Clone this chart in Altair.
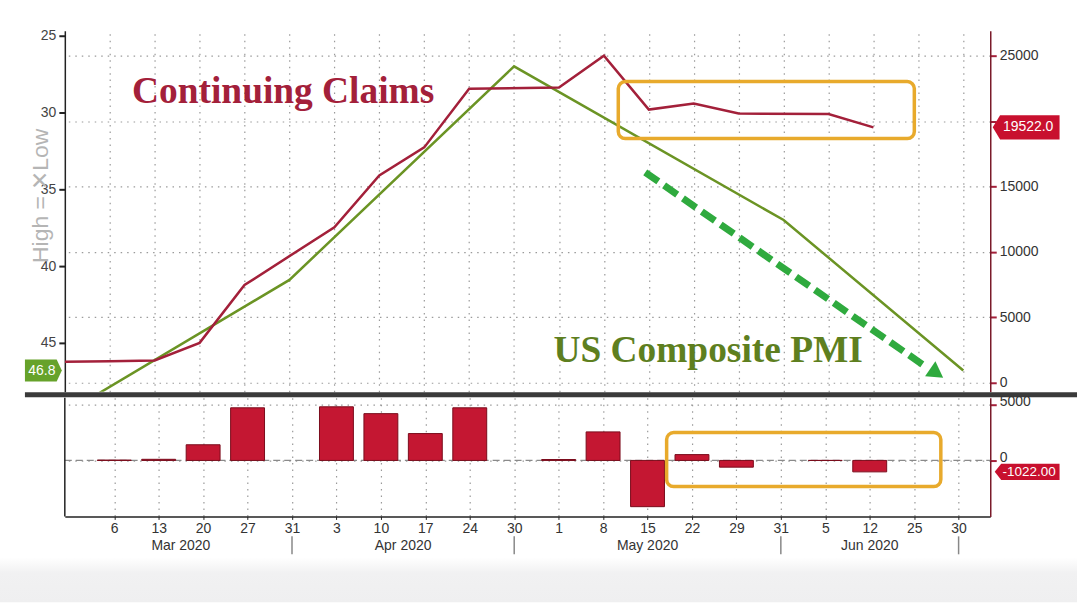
import json
import altair as alt
import pandas as pd

# ---------------- data ----------------
x_labels = ["6", "13", "20", "27", "31", "3", "10", "17", "24", "30",
            "1", "8", "15", "22", "29", "31", "5", "12", "25", "30"]
month_labels = ["Mar 2020", "Apr 2020", "May 2020", "Jun 2020"]
month_label_pos = [1.5, 6.5, 12.0, 17.0]
month_sep_pos = [4, 9, 15, 19]

# Continuing claims (thousands), right axis of the top panel
claims_pos = [-1, 0, 1, 2, 3, 5, 6, 7, 8, 10, 11, 12, 13, 14, 16, 17]
claims_val = [1600, 1650, 1700, 3050, 7470, 11890, 15850, 17990, 22480,
              22560, 25000, 20880, 21340, 20580, 20544, 19522]

# US Composite PMI, left (inverted) axis of the top panel
pmi_pos = [-1, 4, 9, 15, 19]
pmi_val = [49.6, 40.9, 27.0, 37.0, 46.8]

# weekly change in continuing claims, bottom panel
chg_pos = [0, 1, 2, 3, 5, 6, 7, 8, 10, 11, 12, 13, 14, 16, 17]
chg_val = [30, 100, 1400, 4700, 4790, 4180, 2400, 4700, 80, 2550,
           -4130, 520, -600, 0, -1022]

# annotations (in data units)
title_text = ["Continuing Claims", "US Composite PMI"]
title_pos = [3.86, 13.32]
title_val = [21418, 1600]
box_top = {"pos": [11.32], "pos2": [17.91], "v": [23018], "v2": [18674]}
box_bot = {"pos": [12.43], "pos2": [18.60], "v": [2487], "v2": [-2326]}
arrow = {"pos": [11.92], "pos2": [18.20], "v": [16082], "v2": [1143]}
arrow_head = {"pos": [18.36], "v": [840]}

# ---------------- styling ----------------
W, H_TOP, H_BOT = 928, 362, 119
RED = "#a3203a"
BAR = "#c41732"
GREEN = "#6b9424"
TAG_RED = "#c8102e"
TAG_GREEN = "#66a22a"
ORANGE = "#e8aa2c"
FONT = "Liberation Sans"
SERIF = "Liberation Serif"
GRID = dict(gridDash=[1.5, 5], gridColor="#9a9a9a", gridWidth=1.2)

xscale = alt.Scale(domain=[-1, 19.6], nice=False, zero=False)
pmi_scale = alt.Scale(domain=[24.68, 48.18], reverse=True, nice=False, zero=False)
claims_scale = alt.Scale(domain=[-686, 26905], nice=False, zero=False)
chg_scale = alt.Scale(domain=[-5000, 5600], nice=False, zero=False)

x_axis_top = alt.Axis(values=list(range(20)), labels=False, ticks=False,
                      domain=False, grid=True, title=None, **GRID)
x_axis_bot = alt.Axis(values=list(range(20)), grid=True, title=None,
                      labelExpr=json.dumps(x_labels) + "[datum.value]",
                      labelFont=FONT, labelFontSize=14, labelColor="#333",
                      labelPadding=2, tickSize=3, tickColor="#222",
                      domainColor="#222", domainWidth=1.5, labelFlush=False,
                      labelOverlap=False, **GRID)


def XT(field="pos"):
    return alt.X(f"{field}:Q", scale=xscale, axis=x_axis_top)


def XB(field="pos"):
    return alt.X(f"{field}:Q", scale=xscale, axis=x_axis_bot)


def YN(scale, field="v"):
    return alt.Y(f"{field}:Q", scale=scale, axis=None)


# ---------------- top panel ----------------
pmi_df = pd.DataFrame({"pos": pmi_pos, "v": pmi_val})
claims_df = pd.DataFrame({"pos": claims_pos, "v": claims_val})

green = alt.Chart(pmi_df).mark_line(color=GREEN, strokeWidth=2.5, clip=True).encode(
    x=XT(),
    y=alt.Y("v:Q", scale=pmi_scale, axis=alt.Axis(
        orient="left", values=[25, 30, 35, 40, 45], grid=False,
        title="High = \u2715Low", titleFont=FONT, titleFontSize=23,
        titleFontWeight="normal", titleColor="#b5b5b5", titleAngle=-90,
        titleX=-24, titleY=165, titleAlign="center", titleBaseline="middle",
        labelFont=FONT, labelFontSize=14, labelColor="#444", labelPadding=3,
        tickSize=6, tickWidth=2, tickColor="#222",
        domainColor="#222", domainWidth=1.5)),
)

red = alt.Chart(claims_df).mark_line(color=RED, strokeWidth=2.5, clip=True).encode(
    x=XT(),
    y=alt.Y("v:Q", scale=claims_scale, axis=alt.Axis(
        orient="right", values=[0, 5000, 10000, 15000, 20000, 25000],
        labelExpr="datum.value == 20000 ? '' : datum.label", format="d",
        title=None, labelFont=FONT, labelFontSize=14, labelColor="#333",
        labelPadding=3, tickSize=6, tickWidth=2, tickColor=RED,
        domainColor="#7a1a2a", domainWidth=1.5, grid=True, **GRID)),
)

titles_df = pd.DataFrame({"pos": title_pos, "v": title_val, "t": title_text,
                          "c": [RED, "#5e7f1f"]})
titles = alt.Chart(titles_df).mark_text(
    font=SERIF, fontSize=37.5, fontWeight="bold", align="center",
    baseline="alphabetic").encode(
    x=XT(), y=YN(claims_scale), text="t:N",
    color=alt.Color("c:N", scale=None))

box1 = alt.Chart(pd.DataFrame(box_top)).mark_rect(
    fillOpacity=0, stroke=ORANGE, strokeWidth=3.5, cornerRadius=7).encode(
    x=XT(), x2="pos2:Q", y=YN(claims_scale), y2="v2:Q")

arrow_line = alt.Chart(pd.DataFrame(arrow)).mark_rule(
    color="#2faa3e", strokeWidth=7, strokeDash=[16, 7]).encode(
    x=XT(), x2="pos2:Q", y=YN(claims_scale), y2="v2:Q")

arrow_tip = alt.Chart(pd.DataFrame(arrow_head)).mark_point(
    shape="triangle", filled=True, color="#2faa3e", opacity=1,
    size=330, angle=124.7).encode(x=XT(), y=YN(claims_scale))

tag_r_path = "M -1 0 L -0.78 -0.36 L 1 -0.36 L 1 0.36 L -0.78 0.36 Z"
tag_l_path = "M 1 0 L 0.72 -0.6 L -1 -0.6 L -1 0.6 L 0.72 0.6 Z"

claims_tag_df = pd.DataFrame({"v": [claims_val[-1]],
                              "t": [f"{claims_val[-1]:.1f}"]})
claims_tag = alt.Chart(claims_tag_df).mark_point(
    shape=tag_r_path, filled=True, color=TAG_RED, opacity=1, size=4489).encode(
    x=alt.value(W + 36), y=YN(claims_scale))
claims_tag_txt = alt.Chart(claims_tag_df).mark_text(
    font=FONT, fontSize=14, color="white", align="center", baseline="middle").encode(
    x=alt.value(W + 38), y=YN(claims_scale), text="t:N")

pmi_tag_df = pd.DataFrame({"v": [pmi_val[-1]], "t": [f"{pmi_val[-1]:.1f}"]})
pmi_tag = alt.Chart(pmi_tag_df).mark_point(
    shape=tag_l_path, filled=True, color=TAG_GREEN, opacity=1, size=1369).encode(
    x=alt.value(-21.5), y=YN(pmi_scale))
pmi_tag_txt = alt.Chart(pmi_tag_df).mark_text(
    font=FONT, fontSize=14, color="white", align="center", baseline="middle").encode(
    x=alt.value(-23), y=YN(pmi_scale), text="t:N")

sep_bar = alt.Chart(pd.DataFrame({"a": [0]})).mark_rule(
    color="#3a3a3a", strokeWidth=5).encode(
    x=alt.value(-40), x2=alt.value(W + 87), y=alt.value(H_TOP + 3))

top_edge = alt.Chart(pd.DataFrame({"a": [0]})).mark_rect(color="white").encode(
    x=alt.value(-65), x2=alt.value(W + 87), y=alt.value(-30), y2=alt.value(-29))

top = alt.layer(
    top_edge, green, red, box1, arrow_line, arrow_tip, titles,
    pmi_tag, pmi_tag_txt, claims_tag, claims_tag_txt, sep_bar,
).resolve_scale(y="independent").properties(width=W, height=H_TOP)

# ---------------- bottom panel ----------------
chg_df = pd.DataFrame({"pos": chg_pos, "v": chg_val})

zero_line = alt.Chart(pd.DataFrame({"a": [0]})).mark_rule(
    color="#8a8a8a", strokeWidth=1.3, strokeDash=[7, 4]).encode(
    x=alt.value(0), x2=alt.value(W),
    y=alt.YDatum(0, scale=chg_scale, axis=None))

bars = alt.Chart(chg_df).mark_bar(
    size=34, color=BAR, stroke="#7a0c1c", strokeWidth=1).encode(
    x=XB(),
    y=alt.Y("v:Q", scale=chg_scale, axis=alt.Axis(
        orient="right", values=[0, 5000], format="d", title=None,
        labelFont=FONT, labelFontSize=14, labelColor="#333", labelPadding=3,
        labelOffset=-3, tickSize=6, tickWidth=2, tickColor=RED,
        domainColor="#7a1a2a", domainWidth=1.5, grid=True, **GRID)),
    y2=alt.datum(0),
)

left_line = alt.Chart(pd.DataFrame({"a": [0]})).mark_rule(
    color="#222", strokeWidth=1.5).encode(
    x=alt.value(0), y=alt.value(0), y2=alt.value(H_BOT))

box2 = alt.Chart(pd.DataFrame(box_bot)).mark_rect(
    fillOpacity=0, stroke=ORANGE, strokeWidth=3.5, cornerRadius=7).encode(
    x=XB(), x2="pos2:Q", y=YN(chg_scale), y2="v2:Q")

months_df = pd.DataFrame({"pos": month_label_pos, "t": month_labels})
months = alt.Chart(months_df).mark_text(
    font=FONT, fontSize=14, color="#333", align="center", baseline="middle").encode(
    x=XB(), y=alt.value(H_BOT + 30), text="t:N")

seps_df = pd.DataFrame({"pos": month_sep_pos})
seps = alt.Chart(seps_df).mark_rule(color="#888", strokeWidth=1.5).encode(
    x=XB(), y=alt.value(H_BOT + 20), y2=alt.value(H_BOT + 38))

chg_tag_df = pd.DataFrame({"v": [chg_val[-1]], "t": [f"{chg_val[-1]:.2f}"]})
chg_tag = alt.Chart(chg_tag_df).mark_point(
    shape="M -1 0 L -0.8 -0.25 L 1 -0.25 L 1 0.25 L -0.8 0.25 Z",
    filled=True, color=TAG_RED, opacity=1, size=4225).encode(
    x=alt.value(W + 37), y=YN(chg_scale))
chg_tag_txt = alt.Chart(chg_tag_df).mark_text(
    font=FONT, fontSize=13.5, color="white", align="center", baseline="middle").encode(
    x=alt.value(W + 39), y=YN(chg_scale), text="t:N")

band = alt.Chart(pd.DataFrame({"a": [0]})).mark_rect(
    color=alt.LinearGradient(gradient="linear", x1=0, y1=0, x2=0, y2=1,
                             stops=[alt.GradientStop(color="#ffffff", offset=0),
                                    alt.GradientStop(color="#f1f1f2", offset=0.35),
                                    alt.GradientStop(color="#efeff0", offset=1)])).encode(
    x=alt.value(-65), x2=alt.value(W + 87), y=alt.value(H_BOT + 41),
    y2=alt.value(H_BOT + 86))

bottom = alt.layer(
    band, zero_line, bars, left_line, box2, months, seps, chg_tag, chg_tag_txt,
).resolve_scale(y="independent").properties(width=W, height=H_BOT)

chart = alt.vconcat(top, bottom, spacing=6, bounds="flush").properties(
    padding=0, background="white"
).configure_view(stroke=None)

chart.save("out.html", embed_options={"renderer": "svg", "actions": False})
